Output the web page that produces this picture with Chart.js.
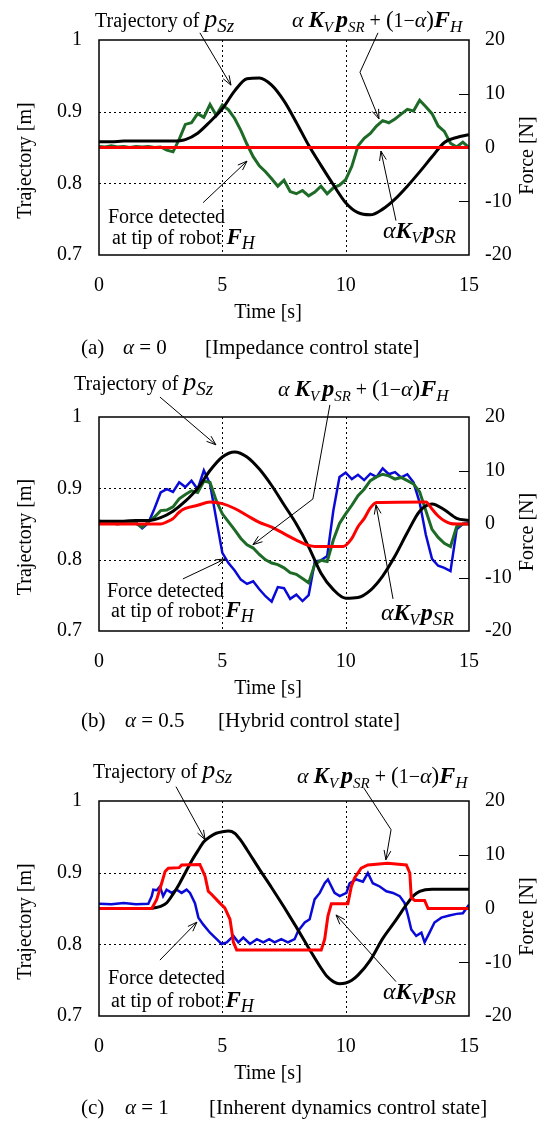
<!DOCTYPE html>
<html>
<head>
<meta charset="utf-8">
<script src="https://cdn.jsdelivr.net/npm/chart.js@4/dist/chart.umd.min.js"></script>
<style>
  html, body { margin: 0; padding: 0; background: #fff; }
  body { width: 551px; height: 1121px; position: relative; overflow: hidden;
         font-family: "Liberation Serif", "Times New Roman", serif; color: #000; }
  canvas { position: absolute; left: 0; }
  .cap { position: absolute; left: 0; width: 551px; height: 24px; font-size: 21px; line-height: 24px; white-space: nowrap; }
  .cap span { position: absolute; top: 0; }
</style>
</head>
<body>
<canvas id="chartA" width="551" height="368" style="top:0px"></canvas>
<canvas id="chartB" width="551" height="377" style="top:368px"></canvas>
<canvas id="chartC" width="551" height="376" style="top:745px"></canvas>

<div class="cap" style="top:335px"><span style="left:81px">(a)</span><span style="left:123px"><i>α</i> = 0</span><span style="left:205px">[Impedance control state]</span></div>
<div class="cap" style="top:708px"><span style="left:81px">(b)</span><span style="left:125px"><i>α</i> = 0.5</span><span style="left:218px">[Hybrid control state]</span></div>
<div class="cap" style="top:1095px"><span style="left:81px">(c)</span><span style="left:125px"><i>α</i> = 1</span><span style="left:209px">[Inherent dynamics control state]</span></div>

<script>
// ---- axes ----
const timeTicks = [0, 5, 10, 15];
const trajTicks = [0.7, 0.8, 0.9, 1.0];
const forceTicks = [-20, -10, 0, 10, 20];

// ---- (a) alpha = 0 ----
const timeTrajA = [0, 0.5, 1, 1.5, 2, 2.5, 3, 3.5, 4, 4.5, 5, 5.5, 6, 6.5, 7, 7.5, 8, 8.5, 9, 9.5, 10, 10.5, 11, 11.5, 12, 12.5, 13, 13.5, 14, 14.5, 15];
const trajA = [0.858, 0.858, 0.859, 0.859, 0.859, 0.859, 0.859, 0.861, 0.870, 0.886, 0.904, 0.929, 0.946, 0.947, 0.937, 0.915, 0.885, 0.853, 0.825, 0.798, 0.773, 0.759, 0.756, 0.764, 0.778, 0.796, 0.816, 0.837, 0.857, 0.864, 0.868];
const timeForceA = [0, 0.25, 0.5, 0.75, 1, 1.25, 1.5, 1.75, 2, 2.25, 2.5, 2.75, 3, 3.25, 3.5, 3.75, 4, 4.25, 4.5, 4.75, 5, 5.25, 5.5, 5.75, 6, 6.25, 6.5, 6.75, 7, 7.25, 7.5, 7.75, 8, 8.25, 8.5, 8.75, 9, 9.25, 9.5, 9.75, 10, 10.25, 10.5, 10.75, 11, 11.25, 11.5, 11.75, 12, 12.25, 12.5, 12.75, 13, 13.25, 13.5, 13.75, 14, 14.25, 14.5, 14.75, 15];
const combinedA = [0.2, 0.1, 0.3, 0.1, 0.2, 0.0, 0.2, 0.1, 0.2, 0.0, 0.1, -0.5, -0.8, 1.5, 4.3, 4.6, 6.3, 5.6, 8.0, 6.0, 7.9, 7.0, 5.4, 3.2, 0.6, -1.7, -3.4, -4.5, -5.8, -7.2, -6.1, -8.2, -8.6, -8.0, -9.0, -8.3, -7.2, -8.6, -7.5, -7.0, -6.0, -3.5, 0.3, 1.7, 2.6, 4.0, 5.0, 4.6, 5.3, 6.2, 7.1, 6.8, 8.8, 7.6, 6.3, 4.0, 3.0, 0.8, 0.1, 1.0, 0.0];
const timeRefA = [0, 15];
const refForceA = [0, 0];

// ---- (b) alpha = 0.5 ----
const timeTrajB = [0, 0.5, 1, 1.5, 2, 2.5, 3, 3.5, 4, 4.5, 5, 5.5, 6, 6.5, 7, 7.5, 8, 8.5, 9, 9.5, 10, 10.5, 11, 11.5, 12, 12.5, 13, 13.5, 14, 14.5, 15];
const trajB = [0.854, 0.854, 0.854, 0.855, 0.855, 0.859, 0.868, 0.882, 0.900, 0.925, 0.944, 0.951, 0.944, 0.927, 0.904, 0.877, 0.850, 0.818, 0.781, 0.758, 0.746, 0.747, 0.757, 0.777, 0.805, 0.838, 0.868, 0.878, 0.870, 0.858, 0.855];
const timeForceB = [0, 0.25, 0.5, 0.75, 1, 1.25, 1.5, 1.75, 2, 2.25, 2.5, 2.75, 3, 3.25, 3.5, 3.75, 4, 4.25, 4.5, 4.75, 5, 5.25, 5.5, 5.75, 6, 6.25, 6.5, 6.75, 7, 7.25, 7.5, 7.75, 8, 8.25, 8.5, 8.75, 9, 9.25, 9.5, 9.75, 10, 10.25, 10.5, 10.75, 11, 11.25, 11.5, 11.75, 12, 12.25, 12.5, 12.75, 13, 13.25, 13.5, 13.75, 14, 14.25, 14.5, 14.75, 15];
const handForceB = [0.6, 0.3, 0.5, 0.0, 0.4, 0.1, 0.3, -0.8, 0.2, 2.9, 5.9, 6.5, 6.0, 7.8, 6.9, 8.1, 6.5, 10.0, 7.5, 1.0, -5.4, -7.3, -8.7, -10.4, -11.2, -10.7, -12.2, -13.5, -14.5, -11.8, -12.0, -14.0, -13.2, -14.4, -13.3, -7.0, -6.8, -6.0, 2.5, 8.8, 9.6, 8.4, 9.2, 8.2, 9.4, 8.8, 10.4, 9.3, 9.7, 8.7, 9.3, 7.8, 4.0, -2.0, -6.5, -7.8, -8.2, -8.8, -1.0, 0.0, 0.2];
const combinedB = [0.2, 0.1, 0.2, 0.0, 0.2, 0.1, 0.1, -0.6, 0.4, 1.3, 2.5, 2.6, 3.2, 4.7, 5.5, 6.2, 5.9, 8.0, 7.8, 4.4, 1.9, 0.4, -1.1, -2.7, -3.9, -4.5, -5.7, -6.7, -7.3, -7.6, -8.2, -9.1, -9.4, -10.2, -11.0, -7.5, -6.8, -7.0, -3.0, 0.1, 1.9, 3.5, 5.3, 6.5, 8.1, 8.8, 9.3, 9.0, 8.4, 8.7, 8.1, 7.5, 6.0, 2.5, -1.0, -2.5, -3.6, -4.2, -0.5, 0.0, 0.0];
const timeRefB = [0, 2.5, 2.75, 3, 3.25, 3.5, 4, 4.5, 5, 5.5, 6, 6.5, 7, 7.5, 8, 8.5, 8.75, 9.9, 10.25, 10.5, 10.75, 11, 11.25, 13.25, 13.5, 13.75, 14, 14.25, 14.5, 15];
const refForceB = [0, 0, 0.4, 1.0, 2.2, 2.9, 3.5, 4.1, 3.8, 2.9, 1.6, 0.3, -0.6, -1.8, -3.0, -4.0, -4.2, -4.2, -2.7, -0.5, 1.0, 3.0, 4.0, 4.1, 2.8, 1.5, 0.6, 0.1, 0, 0];

// ---- (c) alpha = 1 ----
const timeTrajC = [0, 2.1, 2.25, 2.5, 2.75, 3, 3.25, 3.5, 3.75, 4, 4.25, 4.5, 4.75, 5, 5.25, 5.5, 5.75, 6, 6.5, 7, 7.5, 8, 8.5, 9, 9.25, 9.5, 9.75, 10, 10.25, 10.5, 11, 11.5, 12, 12.5, 12.75, 13, 13.5, 14, 15];
const trajC = [0.85, 0.85, 0.851, 0.853, 0.858, 0.870, 0.884, 0.900, 0.916, 0.930, 0.943, 0.950, 0.955, 0.957, 0.958, 0.955, 0.945, 0.932, 0.905, 0.879, 0.852, 0.824, 0.795, 0.767, 0.755, 0.748, 0.745, 0.746, 0.750, 0.757, 0.778, 0.808, 0.832, 0.857, 0.868, 0.874, 0.877, 0.877, 0.877];
const timeHandC = [0, 0.5, 1, 1.5, 2, 2.14, 2.2, 2.34, 2.47, 2.6, 2.74, 2.95, 3.15, 3.35, 3.55, 3.69, 3.89, 4.03, 4.23, 4.5, 4.77, 4.97, 5.18, 5.45, 5.65, 5.85, 6.12, 6.4, 6.66, 6.9, 7.12, 7.39, 7.66, 7.93, 8.07, 8.34, 8.54, 8.74, 8.95, 9.15, 9.28, 9.55, 9.76, 10.03, 10.16, 10.43, 10.7, 10.9, 11.1, 11.38, 11.65, 11.92, 12.19, 12.39, 12.53, 12.66, 12.86, 13.07, 13.2, 13.4, 13.6, 13.88, 14.2, 14.5, 14.75, 15];
const handForceC = [0.9, 0.8, 1.0, 0.8, 0.9, 2.3, 3.5, 3.4, 4.1, 2.3, 3.5, 2.9, 3.5, 2.9, 3.5, 2.9, 1.0, -1.7, -3.0, -4.5, -5.7, -6.6, -6.3, -5.1, -6.3, -5.4, -6.6, -5.7, -6.3, -5.7, -6.3, -5.7, -6.3, -5.7, -4.2, -2.6, -2.0, 1.7, 2.9, 4.7, 5.4, 2.9, 2.3, 2.9, 4.7, 5.4, 5.0, 6.6, 4.7, 4.1, 3.2, 2.9, 2.3, 1.0, -1.4, -3.9, -5.1, -4.5, -6.3, -4.5, -2.6, -1.7, -1.3, -1.0, -0.9, 0.7];
const timeRefC = [0, 2.14, 2.34, 2.54, 2.68, 2.81, 3.25, 3.35, 4.09, 4.3, 4.43, 4.57, 4.9, 5.1, 5.31, 5.45, 5.58, 9.01, 9.15, 9.28, 9.42, 10.09, 10.23, 10.36, 10.63, 10.9, 11.7, 12.46, 12.6, 12.66, 12.8, 13.2, 13.34, 15];
const refForceC = [0, 0, 1.7, 4.7, 6.9, 7.5, 7.6, 8.1, 8.2, 6.0, 3.2, 2.6, 1.0, 0.1, -2.0, -6.3, -7.7, -7.7, -5.7, -1.4, 0.9, 0.9, 4.1, 5.7, 7.5, 8.1, 8.4, 8.1, 6.6, 2.0, 1.5, 1.5, 0, 0];

// ---- labels (rich text: [text, style, size scale, baseline shift]) ----
const LBL_TRAJ = [['Trajectory of ', ''], ['p', 'italic', 1.3], ['Sz', 'italic', 0.95, 5]];
const LBL_COMBO = [['α', 'italic', 1.1], [' ', ''], ['K', 'italic bold', 1.15], ['V', 'italic', 0.75, 5], [' ', '', 0.6],
  ['p', 'italic bold', 1.2], ['SR', 'italic', 0.75, 5], [' + ', ''], ['(', '', 1.15], ['1', ''], ['−', ''],
  ['α', 'italic', 1.1], [')', '', 1.15], ['F', 'italic bold', 1.2], ['H', 'italic', 0.85, 5]];
const LBL_FORCE1 = [['Force detected', '']];
const LBL_FORCE2 = [['at tip of robot ', ''], ['F', 'italic bold', 1.15], ['H', 'italic', 0.9, 5]];
const LBL_AKP = [['α', 'italic', 1.2], ['K', 'italic bold', 1.2], ['V', 'italic', 0.8, 5], [' ', '', 0.3],
  ['p', 'italic bold', 1.2], ['SR', 'italic', 0.95, 5]];

// label anchors and arrows, in data units (time s, trajectory m)
const notesA = [
  { text: LBL_TRAJ, at: [-0.16, 1.018] },
  { text: LBL_COMBO, at: [7.82, 1.018] },
  { text: LBL_FORCE1, at: [0.36, 0.745] },
  { text: LBL_FORCE2, at: [0.53, 0.715] },
  { text: LBL_AKP, at: [11.51, 0.724] },
  { arrow: [[4.09, 1.010], [5.35, 0.937]] },
  { arrow: [[11.31, 1.010], [10.58, 0.955], [11.35, 0.890]] },
  { arrow: [[4.22, 0.773], [6.0, 0.831]] },
  { arrow: [[12.04, 0.748], [11.43, 0.845]] }
];
const notesB = [
  { text: LBL_TRAJ, at: [-1.01, 1.038] },
  { text: LBL_COMBO, at: [7.26, 1.029] },
  { text: LBL_FORCE1, at: [0.32, 0.748] },
  { text: LBL_FORCE2, at: [0.49, 0.720] },
  { text: LBL_AKP, at: [11.43, 0.715] },
  { arrow: [[2.47, 1.028], [4.74, 0.961]] },
  { arrow: [[9.36, 1.017], [8.67, 0.885], [6.24, 0.821]] },
  { arrow: [[3.40, 0.773], [5.11, 0.801]] },
  { arrow: [[11.92, 0.745], [11.23, 0.877]] }
];
const notesC = [
  { text: LBL_TRAJ, at: [-0.24, 1.032] },
  { text: LBL_COMBO, at: [8.03, 1.025] },
  { text: LBL_FORCE1, at: [0.36, 0.745] },
  { text: LBL_FORCE2, at: [0.49, 0.713] },
  { text: LBL_AKP, at: [11.51, 0.724] },
  { arrow: [[3.12, 1.020], [4.30, 0.946]] },
  { arrow: [[10.74, 1.018], [11.84, 0.960], [11.63, 0.918]] },
  { arrow: [[2.47, 0.778], [3.97, 0.831]] },
  { arrow: [[12.04, 0.748], [9.61, 0.841]] }
];

const FONT = '"Liberation Serif", "Times New Roman", serif';
const FS = 20;

function pts(ts, vs) { return ts.map((t, i) => ({ x: t, y: vs[i] })); }

function drawRich(ctx, x, y, segs) {
  let cx = x;
  for (const [txt, style, scale, dy] of segs) {
    ctx.font = `${style} ${FS * (scale || 1)}px ${FONT}`;
    ctx.fillText(txt, cx, y + (dy || 0));
    cx += ctx.measureText(txt).width;
  }
}

function line(ctx, x1, y1, x2, y2) {
  ctx.beginPath(); ctx.moveTo(x1, y1); ctx.lineTo(x2, y2); ctx.stroke();
}

const framePlugin = {
  id: 'frame',
  beforeDatasetsDraw(chart) {
    const { ctx, chartArea: a, scales: { x, y, y2 } } = chart;
    ctx.save();
    ctx.strokeStyle = '#000';
    ctx.lineWidth = 1;
    ctx.setLineDash([2, 3]);
    [5, 10].forEach(t => { const px = Math.round(x.getPixelForValue(t)) + 0.5; line(ctx, px, a.top, px, a.bottom); });
    [0.8, 0.9].forEach(v => { const py = Math.round(y.getPixelForValue(v)) + 0.5; line(ctx, a.left, py, a.right, py); });
    ctx.setLineDash([]);
    [-10, 0, 10].forEach(f => { const py = Math.round(y2.getPixelForValue(f)) + 0.5; line(ctx, a.right - 10, py, a.right, py); });
    ctx.restore();
  },
  afterDatasetsDraw(chart, args, opts) {
    const { ctx, chartArea: a, scales: { x, y } } = chart;
    ctx.save();
    ctx.strokeStyle = '#000';
    ctx.lineWidth = 1.5;
    ctx.strokeRect(a.left, a.top, a.right - a.left, a.bottom - a.top);

    // axis titles
    ctx.fillStyle = '#000';
    ctx.font = `${FS}px ${FONT}`;
    ctx.textAlign = 'center';
    ctx.textBaseline = 'middle';
    const midY = (a.top + a.bottom) / 2;
    ctx.fillText('Time [s]', (a.left + a.right) / 2 - 16, a.bottom + 58);
    ctx.save(); ctx.translate(26, midY + 13); ctx.rotate(-Math.PI / 2); ctx.fillText('Trajectory [m]', 0, 0); ctx.restore();
    ctx.save(); ctx.translate(528, midY + 8); ctx.rotate(-Math.PI / 2); ctx.fillText('Force [N]', 0, 0); ctx.restore();

    // labels and arrows
    ctx.textAlign = 'left';
    ctx.textBaseline = 'alphabetic';
    ctx.lineWidth = 1;
    for (const n of opts.items || []) {
      if (n.text) {
        drawRich(ctx, x.getPixelForValue(n.at[0]), y.getPixelForValue(n.at[1]), n.text);
      } else {
        const p = n.arrow.map(([t, v]) => [x.getPixelForValue(t), y.getPixelForValue(v)]);
        ctx.beginPath();
        ctx.moveTo(p[0][0], p[0][1]);
        for (let i = 1; i < p.length; i++) ctx.lineTo(p[i][0], p[i][1]);
        ctx.stroke();
        const [hx, hy] = p[p.length - 1], [px, py] = p[p.length - 2];
        const ang = Math.atan2(hy - py, hx - px);
        ctx.beginPath();
        ctx.moveTo(hx - 10 * Math.cos(ang - 0.35), hy - 10 * Math.sin(ang - 0.35));
        ctx.lineTo(hx, hy);
        ctx.lineTo(hx - 10 * Math.cos(ang + 0.35), hy - 10 * Math.sin(ang + 0.35));
        ctx.stroke();
      }
    }
    ctx.restore();
  }
};

function makeChart(id, top, bottom, datasets, notes) {
  const canvas = document.getElementById(id);
  const h = canvas.height;
  const tickFont = { family: FONT, size: FS };
  return new Chart(canvas, {
    type: 'line',
    data: { datasets },
    options: {
      responsive: false,
      animation: false,
      parsing: false,
      layout: { padding: { top: top, left: 0, right: 0, bottom: 0 } },
      elements: { point: { radius: 0 } },
      plugins: { legend: { display: false }, tooltip: { enabled: false }, frame: { items: notes } },
      scales: {
        x: {
          type: 'linear', min: 0, max: 15,
          afterBuildTicks: s => { s.ticks = timeTicks.map(v => ({ value: v })); },
          ticks: { font: tickFont, color: '#000', padding: 19, maxRotation: 0, autoSkip: false },
          grid: { display: false, drawTicks: false }, border: { display: false },
          afterFit: s => { s.height = h - bottom; }
        },
        y: {
          position: 'left', min: 0.7, max: 1.0,
          afterBuildTicks: s => { s.ticks = trajTicks.map(v => ({ value: v })); },
          ticks: { font: tickFont, color: '#000', padding: 17, callback: v => String(+v.toFixed(1)) },
          grid: { display: false, drawTicks: false }, border: { display: false },
          afterFit: s => { s.width = 99; }
        },
        y2: {
          position: 'right', min: -20, max: 20,
          afterBuildTicks: s => { s.ticks = forceTicks.map(v => ({ value: v })); },
          ticks: { font: tickFont, color: '#000', padding: 16, callback: v => String(v) },
          grid: { display: false, drawTicks: false }, border: { display: false },
          afterFit: s => { s.width = 551 - 469; }
        }
      }
    },
    plugins: [framePlugin]
  });
}

const BLACK = '#000000', RED = '#ff0000', GREEN = '#1e6b28', BLUE = '#0a0ad8';

function trajSet(ts, vs) {
  return { data: pts(ts, vs), yAxisID: 'y', borderColor: BLACK, borderWidth: 3, cubicInterpolationMode: 'monotone', order: 2 };
}
function forceSet(ts, vs, color, order, width) {
  return { data: pts(ts, vs), yAxisID: 'y2', borderColor: color, borderWidth: width || 3, tension: 0, order: order };
}

makeChart('chartA', 40, 255, [
  forceSet(timeForceA, combinedA, GREEN, 3),
  trajSet(timeTrajA, trajA),
  forceSet(timeRefA, refForceA, RED, 1)
], notesA);

makeChart('chartB', 49, 263, [
  forceSet(timeForceB, handForceB, BLUE, 4, 2.5),
  forceSet(timeForceB, combinedB, GREEN, 3),
  trajSet(timeTrajB, trajB),
  Object.assign(forceSet(timeRefB, refForceB, RED, 1), { cubicInterpolationMode: 'monotone' })
], notesB);

makeChart('chartC', 56, 271, [
  forceSet(timeHandC, handForceC, BLUE, 4, 2.5),
  trajSet(timeTrajC, trajC),
  forceSet(timeRefC, refForceC, RED, 1)
], notesC);
</script>
</body>
</html>
